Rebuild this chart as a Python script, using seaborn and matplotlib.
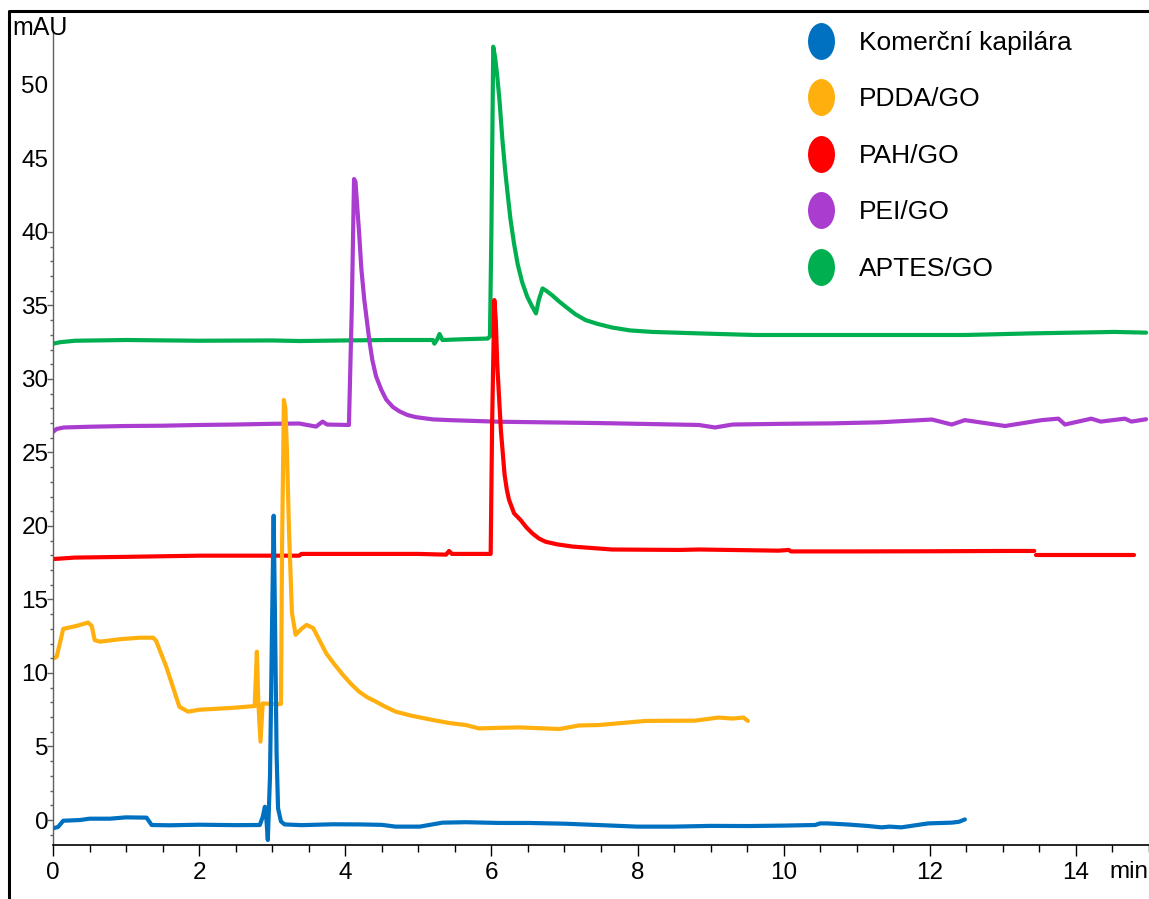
import numpy as np
import pandas as pd
import matplotlib
matplotlib.use("Agg")
import matplotlib.pyplot as plt
import seaborn as sns
from matplotlib.lines import Line2D
from matplotlib.path import Path
from matplotlib.transforms import Affine2D

# ---------------- data ----------------
labels = ["Komerční kapilára", "PDDA/GO", "PAH/GO", "PEI/GO", "APTES/GO"]
colors = ["#0070C0", "#FFB00F", "#FF0000", "#AA3CCF", "#00B050"]

blue_t = [0.0, 0.07, 0.14, 0.37, 0.5, 0.78, 1.0, 1.28, 1.35, 1.6, 2.0, 2.5, 2.83, 2.87,
          2.90, 2.92, 2.94, 2.97, 3.0, 3.02, 3.04, 3.06, 3.08, 3.12, 3.17, 3.4, 3.83, 4.2,
          4.5, 4.69, 5.02, 5.33, 5.65, 6.1, 6.5, 7.0, 7.5, 8.0, 8.5, 9.0, 9.52, 10.0,
          10.43, 10.5, 10.6, 10.89, 11.16, 11.34, 11.45, 11.61, 11.98, 12.3, 12.4, 12.48]
blue_v = [-0.57, -0.47, -0.05, 0.0, 0.09, 0.09, 0.18, 0.16, -0.34, -0.36, -0.32, -0.35,
          -0.34, 0.2, 0.9, 0.1, -1.36, 3.0, 14.0, 20.7, 13.0, 4.5, 0.8, -0.1, -0.3, -0.35,
          -0.29, -0.3, -0.33, -0.45, -0.45, -0.18, -0.15, -0.2, -0.2, -0.25, -0.35, -0.45,
          -0.45, -0.4, -0.41, -0.38, -0.34, -0.23, -0.23, -0.31, -0.41, -0.5, -0.45, -0.5,
          -0.23, -0.18, -0.12, 0.04]

orange_t = [0.0, 0.05, 0.14, 0.32, 0.48, 0.53, 0.57, 0.64, 0.92, 1.19, 1.37, 1.41, 1.55,
            1.73, 1.85, 2.0, 2.46, 2.76, 2.79, 2.81, 2.84, 2.87, 3.08, 3.12, 3.135, 3.16,
            3.18, 3.2, 3.23, 3.27, 3.32, 3.40, 3.47, 3.56, 3.65, 3.74, 3.85, 3.97, 4.08,
            4.19, 4.3, 4.42, 4.55, 4.69, 4.9, 5.2, 5.42, 5.65, 5.83, 6.1, 6.38, 6.93, 7.2,
            7.47, 8.11, 8.79, 9.11, 9.3, 9.45, 9.51]
orange_v = [10.98, 11.1, 13.0, 13.2, 13.43, 13.2, 12.24, 12.13, 12.3, 12.4, 12.4, 12.2,
            10.43, 7.7, 7.37, 7.5, 7.63, 7.75, 11.45, 8.0, 5.33, 7.93, 7.87, 7.9, 18.6,
            28.57, 28.0, 25.4, 19.7, 14.1, 12.6, 13.0, 13.27, 13.06, 12.2, 11.33, 10.6,
            9.86, 9.25, 8.73, 8.35, 8.05, 7.7, 7.37, 7.1, 6.8, 6.6, 6.46, 6.23, 6.27, 6.3,
            6.19, 6.43, 6.46, 6.74, 6.76, 6.97, 6.9, 6.97, 6.74]

red_t = [0.0, 0.3, 1.0, 2.0, 3.37, 3.4, 4.2, 5.0, 5.38, 5.42, 5.46, 5.83, 5.99, 6.01,
         6.04, 6.06, 6.08, 6.13, 6.18, 6.21, 6.24, 6.31, 6.4, 6.48, 6.56, 6.65, 6.74, 6.9,
         7.11, 7.65, 8.57, 8.84, 9.93, 10.07, 10.1, 11.0, 12.0, 13.0, 13.43, 13.445,
         13.46, 14.0, 14.8]
red_v = [17.75, 17.85, 17.9, 17.98, 17.98, 18.1, 18.1, 18.1, 18.05, 18.3, 18.1, 18.1,
         18.1, 27.0, 35.37, 34.0, 31.0, 26.5, 23.5, 22.5, 21.8, 20.86, 20.4, 19.9, 19.5,
         19.15, 18.93, 18.75, 18.6, 18.4, 18.37, 18.4, 18.32, 18.37, 18.27, 18.27, 18.28,
         18.3, 18.3, np.nan, 18.03, 18.03, 18.03]

purple_t = [0.0, 0.05, 0.15, 0.5, 1.0, 1.5, 2.0, 2.5, 3.0, 3.37, 3.6, 3.69, 3.75, 4.05,
            4.09, 4.12, 4.14, 4.19, 4.22, 4.26, 4.30, 4.33, 4.37, 4.42, 4.49, 4.56, 4.65,
            4.74, 4.85, 4.97, 5.2, 5.42, 6.11, 7.47, 8.84, 9.06, 9.3, 10.0, 10.66, 11.3,
            12.03, 12.3, 12.48, 13.03, 13.53, 13.76, 13.85, 14.21, 14.34, 14.67, 14.76,
            14.96]
purple_v = [26.4, 26.6, 26.7, 26.75, 26.8, 26.82, 26.87, 26.9, 26.95, 26.97, 26.76, 27.1,
            26.9, 26.87, 35.0, 43.6, 43.4, 39.9, 37.5, 35.4, 33.8, 32.6, 31.3, 30.2, 29.3,
            28.6, 28.1, 27.8, 27.55, 27.4, 27.25, 27.2, 27.09, 27.0, 26.87, 26.7, 26.9,
            26.95, 26.98, 27.05, 27.24, 26.9, 27.2, 26.8, 27.2, 27.3, 26.9, 27.3, 27.1,
            27.3, 27.1, 27.26]

green_t = [0.0, 0.1, 0.3, 1.0, 2.0, 3.0, 3.37, 4.0, 4.6, 5.2, 5.22, 5.26, 5.29, 5.33, 5.6,
           5.95, 5.98, 6.0, 6.025, 6.05, 6.08, 6.11, 6.15, 6.19, 6.22, 6.26, 6.31, 6.36,
           6.42, 6.49, 6.55, 6.61, 6.65, 6.70, 6.75, 6.83, 6.92, 7.02, 7.15, 7.29, 7.45,
           7.65, 7.9, 8.2, 8.84, 9.11, 9.61, 10.66, 12.48, 13.39, 14.53, 14.96]
green_v = [32.4, 32.5, 32.6, 32.65, 32.6, 32.62, 32.58, 32.62, 32.65, 32.65, 32.4, 32.7,
           33.06, 32.65, 32.7, 32.75, 32.9, 40.0, 52.6, 51.9, 50.6, 49.0, 46.3, 44.1, 42.7,
           40.9, 39.2, 37.8, 36.6, 35.6, 35.0, 34.46, 35.4, 36.16, 36.0, 35.7, 35.3, 34.9,
           34.4, 34.0, 33.75, 33.5, 33.3, 33.2, 33.1, 33.06, 32.99, 32.99, 32.99, 33.1,
           33.2, 33.15]

x_ticks = [0, 2, 4, 6, 8, 10, 12, 14]
y_ticks = [0, 5, 10, 15, 20, 25, 30, 35, 40, 45, 50]

series = [
    (labels[0], blue_t, blue_v),
    (labels[1], orange_t, orange_v),
    (labels[2], red_t, red_v),
    (labels[3], purple_t, purple_v),
    (labels[4], green_t, green_v),
]

rows = []
for name, ts, vs in series:
    seg = 0
    for t, v in zip(ts, vs):
        if np.isnan(v):
            seg += 1
            continue
        rows.append({"series": name, "t": t, "v": v, "seg": seg})
df = pd.DataFrame(rows)

# ---------------- style ----------------
sns.set_style("ticks")
plt.rcParams["font.family"] = ["Liberation Sans", "DejaVu Sans"]
plt.rcParams["text.color"] = "black"
plt.rcParams["xtick.labelcolor"] = "black"
plt.rcParams["ytick.labelcolor"] = "black"
FS_TICK = 17.5
FS_LEG = 19.0
plt.rcParams["font.size"] = FS_TICK

W, H = 1149, 899
fig = plt.figure(figsize=(W / 100, H / 100), dpi=100)
ax = fig.add_axes([53 / W, 1 - 845 / H, (W - 53) / W, (845 - 32) / H])

palette = dict(zip(labels, colors))
draw_order = labels[::-1]  # green at bottom, blue on top
sns.lineplot(data=df, x="t", y="v", hue="series", units="seg", estimator=None,
             sort=False, hue_order=draw_order, palette=palette, linewidth=3.0,
             legend=False, ax=ax)

ax.set_xlim(0, 15.0)
ax.set_ylim(-1.7, 53.6)
ax.set_xlabel("")
ax.set_ylabel("")

for s in ["top", "right"]:
    ax.spines[s].set_visible(False)
ax.spines["left"].set_color("#606060")
ax.spines["left"].set_linewidth(1.0)
ax.spines["bottom"].set_color("black")
ax.spines["bottom"].set_linewidth(1.2)

ax.set_xticks(x_ticks)
ax.set_xticklabels([str(v) for v in x_ticks])
ax.set_xticks(np.arange(0, 15.01, 0.5), minor=True)
ax.set_yticks(y_ticks)
ax.set_yticklabels([str(v) for v in y_ticks])
ax.set_yticks(np.arange(-1, 40.01, 1), minor=True)
ax.tick_params(axis="x", which="major", direction="out", length=8, width=1.0,
               labelsize=FS_TICK, pad=4, color="black", labelcolor="black")
ax.tick_params(axis="x", which="minor", direction="out", length=5, width=1.0,
               color="black")
ax.tick_params(axis="y", which="major", direction="out", length=4, width=1.0,
               labelsize=FS_TICK, pad=-0.8, color="#606060", labelcolor="black")
ax.tick_params(axis="y", which="minor", direction="out", length=2.5, width=1.0,
               color="#606060")
for tk, loc in zip(ax.yaxis.get_major_ticks(), y_ticks):
    if loc > 40:
        tk.tick1line.set_visible(False)

# axis unit labels
fig.text(12 / W, 1 - 16 / H, "mAU", ha="left", va="top", fontsize=18, color="black")
fig.text(1148 / W, 1 - 872 / H, "min", ha="right", va="center", fontsize=FS_TICK,
         color="black")

# legend with elliptical markers
ell = Path.unit_circle().transformed(Affine2D().scale(0.73, 1.0))
handles = [Line2D([], [], linestyle="", marker=ell, markersize=26.6,
                  markerfacecolor=c, markeredgewidth=0) for c in colors]
leg = ax.legend(handles, labels, loc="upper left",
                bbox_to_anchor=(808 / W, 1 - 31 / H),
                bbox_transform=fig.transFigure, frameon=False, fontsize=FS_LEG,
                handlelength=0.95, handletextpad=0.98, labelspacing=1.23,
                borderpad=0, borderaxespad=0, labelcolor="black")

# outer frame (left and top edges)
fig.add_artist(Line2D([9 / W, 9 / W, 1.0], [0.0, 1 - 11 / H, 1 - 11 / H],
                      transform=fig.transFigure, color="black", linewidth=2.2))

fig.savefig("out.png", dpi=100)
